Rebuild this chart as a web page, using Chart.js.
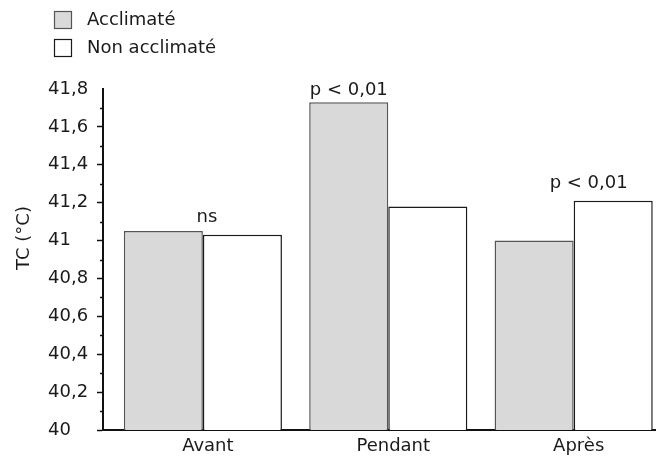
<!DOCTYPE html>
<html>
<head>
<meta charset="utf-8">
<script src="https://cdn.jsdelivr.net/npm/chart.js@4/dist/chart.umd.min.js"></script>
<style>
  html, body { margin: 0; padding: 0; background: #ffffff; }
  #wrap { width: 660px; height: 459px; }
</style>
</head>
<body>
<div id="wrap"><canvas id="chart" width="660" height="459"></canvas></div>
<script>
// Body temperature (TC, °C) by period, acclimated vs. non-acclimated
const categories = ['Avant', 'Pendant', 'Après'];
const seriesNames = ['Acclimaté', 'Non acclimaté'];
const acclimated = [41.05, 41.73, 41.00];
const nonAcclimated = [41.03, 41.18, 41.21];
const significance = ['ns', 'p < 0,01', 'p < 0,01'];
const yAxisTitle = 'TC (°C)';
const yMin = 40;
const yMax = 41.8;
const yStep = 0.1;

const FONT = '"DejaVu Sans", sans-serif';
const TEXT = '#1a1a1a';

// where each significance note sits relative to its group (pixels)
const notePlacement = [
  { dx: 4, gap: 9 },
  { dx: -39.5, gap: 7 },
  { dx: 15, gap: 13 }
];

const fmt = v => (Math.round(v * 10) / 10).toString().replace('.', ',');
const isMajor = v => Math.round(v * 10) % 2 === 0;

const toPoints = arr => arr.map((y, i) => ({ x: i, y }));

const legendPlugin = {
  id: 'stackedLegend',
  afterDraw(chart) {
    const ctx = chart.ctx;
    ctx.save();
    chart.data.datasets.forEach((ds, k) => {
      const x = 54, y = 11 + k * 28, s = 18;
      ctx.fillStyle = ds.backgroundColor;
      ctx.fillRect(x, y, s, s);
      ctx.strokeStyle = ds.borderColor;
      ctx.lineWidth = 1.2;
      ctx.strokeRect(x + 0.5, y + 0.5, s - 1, s - 1);
      ctx.fillStyle = TEXT;
      ctx.font = '18px ' + FONT;
      ctx.textAlign = 'left';
      ctx.textBaseline = 'middle';
      ctx.fillText(ds.label, 87, y + s / 2);
    });
    ctx.restore();
  }
};

const axisExtrasPlugin = {
  id: 'axisExtras',
  afterDraw(chart) {
    const ctx = chart.ctx;
    const ys = chart.scales.y;
    const xs = chart.scales.x;
    ctx.save();
    // minor ticks on the value axis
    ctx.strokeStyle = '#111';
    ctx.lineWidth = 1.5;
    ys.ticks.forEach(t => {
      if (isMajor(t.value)) return;
      const py = Math.round(ys.getPixelForValue(t.value)) + 0.5;
      ctx.beginPath();
      ctx.moveTo(ys.right - 3, py);
      ctx.lineTo(ys.right, py);
      ctx.stroke();
    });
    // rotated axis title
    ctx.fillStyle = TEXT;
    ctx.font = '18px ' + FONT;
    ctx.translate(24, 238);
    ctx.rotate(-Math.PI / 2);
    ctx.textAlign = 'center';
    ctx.textBaseline = 'middle';
    ctx.fillText(yAxisTitle, 0, 0);
    ctx.restore();

    // significance notes above each group
    const m0 = chart.getDatasetMeta(0).data;
    const m1 = chart.getDatasetMeta(1).data;
    ctx.save();
    ctx.fillStyle = TEXT;
    ctx.font = '18px ' + FONT;
    ctx.textAlign = 'center';
    ctx.textBaseline = 'alphabetic';
    significance.forEach((txt, i) => {
      const p = notePlacement[i];
      const cx = xs.getPixelForValue(i) + p.dx;
      const top = Math.min(m0[i].y, m1[i].y);
      ctx.fillText(txt, cx, top - p.gap);
    });
    ctx.restore();
  }
};

new Chart(document.getElementById('chart'), {
  type: 'bar',
  data: {
    datasets: [
      {
        label: seriesNames[0],
        data: toPoints(acclimated),
        backgroundColor: '#d9d9d9',
        borderColor: '#555555',
        borderWidth: 1.5
      },
      {
        label: seriesNames[1],
        data: toPoints(nonAcclimated),
        backgroundColor: '#ffffff',
        borderColor: '#1a1a1a',
        borderWidth: 1.5
      }
    ]
  },
  options: {
    responsive: false,
    animation: false,
    devicePixelRatio: 1,
    layout: { padding: { top: 89, right: 5, bottom: 0, left: 48 } },
    datasets: { bar: { categoryPercentage: 0.853, barPercentage: 1.0 } },
    plugins: {
      legend: { display: false },
      tooltip: { enabled: false }
    },
    scales: {
      x: {
        type: 'linear',
        offset: false,
        min: -0.5387,
        max: 2.4387,
        z: 1,
        afterBuildTicks: s => { s.ticks = categories.map((_, i) => ({ value: i })); },
        afterFit: s => { s.height = 29; },
        grid: { offset: false, drawOnChartArea: false, drawTicks: false },
        border: { display: true, color: '#111', width: 2 },
        ticks: {
          autoSkip: false,
          maxRotation: 0,
          padding: 6,
          labelOffset: 5,
          color: TEXT,
          font: { family: FONT, size: 18 },
          callback: v => categories[v]
        }
      },
      y: {
        min: yMin,
        max: yMax,
        afterFit: s => { s.width = 55; },
        grid: {
          drawOnChartArea: false,
          tickLength: 6,
          tickWidth: 1.5,
          tickColor: c => (c.tick && isMajor(c.tick.value) && c.tick.value < yMax - 1e-6) ? '#111' : 'rgba(0,0,0,0)'
        },
        border: { display: true, color: '#111', width: 2 },
        ticks: {
          stepSize: yStep,
          autoSkip: false,
          crossAlign: 'far',
          color: TEXT,
          font: { family: FONT, size: 18 },
          callback: v => isMajor(v) ? fmt(v) : ''
        }
      }
    }
  },
  plugins: [legendPlugin, axisExtrasPlugin]
});
</script>
</body>
</html>
